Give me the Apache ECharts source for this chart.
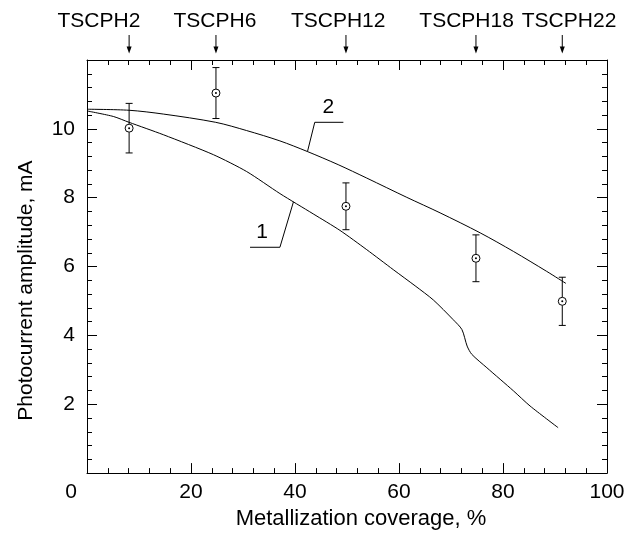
<!DOCTYPE html>
<html>
<head>
<meta charset="utf-8">
<script src="https://cdn.jsdelivr.net/npm/echarts@6/dist/echarts.min.js"></script>
<style>
html,body{margin:0;padding:0;background:#fff;}
#chart{width:636px;height:535px;}
</style>
</head>
<body>
<div id="chart"></div>
<script>
// ---- data ----
const sampleNames = ['TSCPH2', 'TSCPH6', 'TSCPH12', 'TSCPH18', 'TSCPH22'];
const sampleCoverage = [8.1, 24.8, 49.8, 74.8, 91.4];
const sampleLabelX = [2.3, 24.6, 48.3, 73.0, 92.7];
const measuredAmplitude = [10.02, 11.04, 7.75, 6.24, 4.99];
const measuredError = [0.72, 0.74, 0.68, 0.68, 0.70];

const curve1X = [0, 5.06, 8.08, 14.67, 24.3, 30.7, 37.1, 43.5, 48.65, 53.8, 58.9, 63.1, 66.6, 70.4, 72.1, 73.1, 74.0, 76.9, 82.0, 85.2, 90.6];
const curve1Y = [10.52, 10.36, 10.19, 9.83, 9.25, 8.76, 8.12, 7.53, 7.05, 6.49, 5.91, 5.44, 5.03, 4.46, 4.17, 3.69, 3.45, 3.06, 2.39, 1.95, 1.32];

const curve2X = [0, 8.08, 14.67, 24.75, 30.7, 37.1, 42.4, 48.3, 53.8, 61.5, 67.9, 75.6, 82.0, 88.4, 92.1];
const curve2Y = [10.57, 10.54, 10.43, 10.19, 9.95, 9.65, 9.34, 8.96, 8.57, 8.01, 7.56, 6.98, 6.44, 5.86, 5.51];

const leader1X = [31.35, 37.1, 39.7];
const leader1Y = [6.56, 6.56, 7.88];
const leader2X = [49.3, 43.8, 42.4];
const leader2Y = [10.19, 10.19, 9.34];
const curveLabels = ['1', '2'];
const curveLabelX = [33.65, 46.4];
const curveLabelY = [6.99, 10.63];

const xTickLabels = [0, 20, 40, 60, 80, 100];
const yTickLabels = [2, 4, 6, 8, 10];

// ---- chart ----
const FONT = "'Liberation Sans', Arial, sans-serif";
const zip = (a, b) => a.map((v, i) => [v, b[i]]);
const chart = echarts.init(document.getElementById('chart'), null, {renderer: 'canvas'});

const lineCommon = {color: '#000', width: 1};
function xAxisCfg(pos, labels) {
  return {
    type: 'value', position: pos, min: 0, max: 100, interval: 20,
    axisLine: {show: true, onZero: false, lineStyle: lineCommon},
    axisTick: {show: true, inside: true, length: 10, lineStyle: lineCommon},
    minorTick: {show: true, splitNumber: 5, length: 5, lineStyle: lineCommon},
    splitLine: {show: false},
    axisLabel: labels ? {
      show: true, margin: 9, color: '#000', fontSize: 21, fontFamily: FONT,
      formatter: v => xTickLabels.indexOf(v) < 0 ? '' : (v === 0 ? '{z|0}' : String(v)),
      rich: {z: {fontSize: 21, fontFamily: FONT, color: '#000', padding: [0, 32, 0, 0]}}
    } : {show: false}
  };
}
function yAxisCfg(pos, labels) {
  return {
    type: 'value', position: pos, min: 0, max: 12, interval: 2,
    axisLine: {show: true, onZero: false, lineStyle: lineCommon},
    axisTick: {show: true, inside: true, length: 10, lineStyle: lineCommon},
    minorTick: {show: true, splitNumber: 5, length: 5, lineStyle: lineCommon},
    splitLine: {show: false},
    axisLabel: labels ? {
      show: true, margin: 12, color: '#000', fontSize: 21, fontFamily: FONT,
      formatter: v => yTickLabels.indexOf(v) < 0 ? '' : String(v)
    } : {show: false}
  };
}

const xb = xAxisCfg('bottom', true);
xb.name = 'Metallization coverage, %';
xb.nameLocation = 'middle';
xb.nameGap = 34;
xb.nameTextStyle = {color: '#000', fontSize: 22, fontFamily: FONT, padding: [0, 0, 0, 28]};
const yl = yAxisCfg('left', true);
yl.name = 'Photocurrent amplitude, mA';
yl.nameLocation = 'middle';
yl.nameGap = 50;
yl.nameTextStyle = {color: '#000', fontSize: 21, fontFamily: FONT, padding: [0, 48, 0, 0]};

const curveStyle = {type: 'line', showSymbol: false, symbol: 'none', lineStyle: {color: '#000', width: 1}, z: 3};

const option = {
  backgroundColor: '#fff',
  animation: false,
  grid: {left: 87, right: 29, top: 60, bottom: 61, containLabel: false},
  xAxis: [xb, xAxisCfg('top', false)],
  yAxis: [yl, yAxisCfg('right', false)],
  series: [
    Object.assign({}, curveStyle, {data: zip(curve1X, curve1Y), smooth: 0.25}),
    Object.assign({}, curveStyle, {data: zip(curve2X, curve2Y), smooth: 0.3}),
    Object.assign({}, curveStyle, {data: zip(leader1X, leader1Y)}),
    Object.assign({}, curveStyle, {data: zip(leader2X, leader2Y)}),
    {
      type: 'custom', z: 5, clip: false,
      data: curveLabels.map((t, i) => [curveLabelX[i], curveLabelY[i]]),
      renderItem: (params, api) => {
        const p = api.coord([api.value(0), api.value(1)]);
        return {type: 'text', x: p[0], y: p[1], style: {text: curveLabels[params.dataIndex], fontSize: 21, fontFamily: FONT, fill: '#000', align: 'center', verticalAlign: 'middle'}};
      }
    },
    {
      type: 'custom', z: 6, clip: false,
      data: sampleCoverage.map((x, i) => [x, measuredAmplitude[i], measuredError[i]]),
      renderItem: (params, api) => {
        const x = api.value(0), y = api.value(1), e = api.value(2);
        const c = api.coord([x, y]);
        const hi = api.coord([x, y + e]);
        const lo = api.coord([x, y - e]);
        const st = {stroke: '#000', lineWidth: 1};
        return {type: 'group', children: [
          {type: 'line', shape: {x1: c[0], y1: hi[1], x2: c[0], y2: c[1] - 4}, style: st},
          {type: 'line', shape: {x1: c[0], y1: c[1] + 4, x2: c[0], y2: lo[1]}, style: st},
          {type: 'line', shape: {x1: c[0] - 3.5, y1: hi[1], x2: c[0] + 3.5, y2: hi[1]}, style: st},
          {type: 'line', shape: {x1: c[0] - 3.5, y1: lo[1], x2: c[0] + 3.5, y2: lo[1]}, style: st},
          {type: 'circle', shape: {cx: c[0], cy: c[1], r: 4}, style: {stroke: '#000', lineWidth: 1, fill: '#fff'}},
          {type: 'circle', shape: {cx: c[0], cy: c[1], r: 1}, style: {fill: '#000'}}
        ]};
      }
    },
    {
      type: 'custom', z: 6, clip: false,
      data: sampleCoverage.map((x, i) => [x, 12, sampleLabelX[i]]),
      renderItem: (params, api) => {
        const p = api.coord([api.value(0), api.value(1)]);
        const lx = api.coord([api.value(2), api.value(1)])[0];
        return {type: 'group', children: [
          {type: 'line', shape: {x1: p[0], y1: p[1] - 25, x2: p[0], y2: p[1] - 10}, style: {stroke: '#000', lineWidth: 1}},
          {type: 'polygon', shape: {points: [[p[0] - 2.5, p[1] - 13.5], [p[0] + 2.5, p[1] - 13.5], [p[0], p[1] - 6.5]]}, style: {fill: '#000'}},
          {type: 'text', x: lx, y: p[1] - 39, style: {text: sampleNames[params.dataIndex], fontSize: 21, fontFamily: FONT, fill: '#000', align: 'center', verticalAlign: 'middle'}}
        ]};
      }
    }
  ]
};
chart.setOption(option);
</script>
</body>
</html>
